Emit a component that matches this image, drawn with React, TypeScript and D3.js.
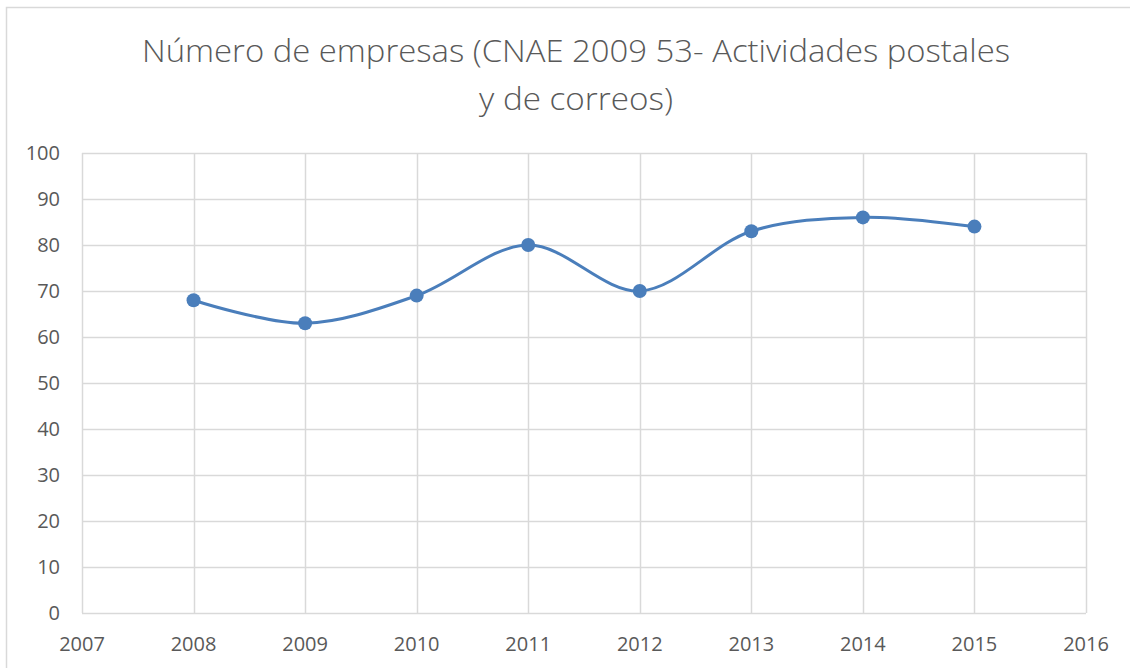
import { useRef, useEffect } from "react";
import * as d3 from "d3";

const years = [2008, 2009, 2010, 2011, 2012, 2013, 2014, 2015];
const empresas = [68, 63, 69, 80, 70, 83, 86, 84];
const xTicks = [2007, 2008, 2009, 2010, 2011, 2012, 2013, 2014, 2015, 2016];
const yTicks = [0, 10, 20, 30, 40, 50, 60, 70, 80, 90, 100];
const titleLines = [
  "Número de empresas (CNAE 2009 53- Actividades postales",
  "y de correos)",
];

const W = 1130;
const H = 668;

const App = () => {
  const svgRef = useRef<SVGSVGElement>(null);

  useEffect(() => {
    const svg = d3.select(svgRef.current);
    svg.selectAll("*").remove();

    const margin = { top: 153, right: 44, bottom: 55, left: 82 };
    const width = W - margin.left - margin.right;
    const height = H - margin.top - margin.bottom;
    const grey = "#595959";
    const font = "'Open Sans', 'Noto Sans', sans-serif";

    svg.append("rect").attr("width", W).attr("height", H).attr("fill", "#fff");
    // chart frame
    svg
      .append("rect")
      .attr("x", 6.5)
      .attr("y", 7.5)
      .attr("width", W + 10)
      .attr("height", H + 10)
      .attr("fill", "none")
      .attr("stroke", "#d9d9d9")
      .attr("stroke-width", 1.5);

    svg
      .append("g")
      .selectAll("text")
      .data(titleLines)
      .join("text")
      .attr("x", 576)
      .attr("y", (d, i) => 62 + i * 48)
      .attr("text-anchor", "middle")
      .attr("font-family", font)
      .attr("font-weight", 300)
      .attr("font-size", 32)
      .attr("fill", grey)
      .attr("textLength", (d, i) => (i === 0 ? 868 : 194))
      .attr("lengthAdjust", "spacingAndGlyphs")
      .text((d) => d);

    const chart = svg
      .append("g")
      .attr("transform", `translate(${margin.left},${margin.top})`);

    const x = d3.scaleLinear().domain([2007, 2016]).range([0, width]);
    const y = d3.scaleLinear().domain([0, 100]).range([height, 0]);

    // gridlines
    chart
      .append("g")
      .selectAll("line")
      .data(yTicks)
      .join("line")
      .attr("x1", 0)
      .attr("x2", width)
      .attr("y1", (d) => Math.round(y(d)) + 0.5)
      .attr("y2", (d) => Math.round(y(d)) + 0.5)
      .attr("stroke", "#d9d9d9")
      .attr("stroke-width", 1.5);
    chart
      .append("g")
      .selectAll("line")
      .data(xTicks)
      .join("line")
      .attr("x1", (d) => Math.round(x(d)) + 0.5)
      .attr("x2", (d) => Math.round(x(d)) + 0.5)
      .attr("y1", 0)
      .attr("y2", height)
      .attr("stroke", "#d9d9d9")
      .attr("stroke-width", 1.5);

    // axis labels
    chart
      .append("g")
      .selectAll("text")
      .data(yTicks)
      .join("text")
      .attr("x", -22)
      .attr("y", (d) => y(d))
      .attr("dy", "0.35em")
      .attr("text-anchor", "end")
      .attr("font-family", font)
      .attr("font-size", 20)
      .attr("fill", grey)
      .text((d) => d);
    chart
      .append("g")
      .selectAll("text")
      .data(xTicks)
      .join("text")
      .attr("x", (d) => x(d))
      .attr("y", height + 31)
      .attr("dy", "0.35em")
      .attr("text-anchor", "middle")
      .attr("font-family", font)
      .attr("font-size", 20)
      .attr("fill", grey)
      .text((d) => d);

    const pts = years.map((yr, i) => ({ year: yr, value: empresas[i] }));
    const blue = "#4a7ebb";

    chart
      .append("path")
      .datum(pts)
      .attr("fill", "none")
      .attr("stroke", blue)
      .attr("stroke-width", 3)
      .attr(
        "d",
        d3
          .line<{ year: number; value: number }>()
          .x((d) => x(d.year))
          .y((d) => y(d.value))
          .curve(d3.curveCatmullRom.alpha(0.5))
      );

    chart
      .append("g")
      .selectAll("circle")
      .data(pts)
      .join("circle")
      .attr("cx", (d) => x(d.year))
      .attr("cy", (d) => y(d.value))
      .attr("r", 7)
      .attr("fill", blue);
  }, []);

  return (
    <svg
      ref={svgRef}
      width={W}
      height={H}
      style={{ position: "absolute", left: 0, top: 0 }}
    ></svg>
  );
};

export default App;
